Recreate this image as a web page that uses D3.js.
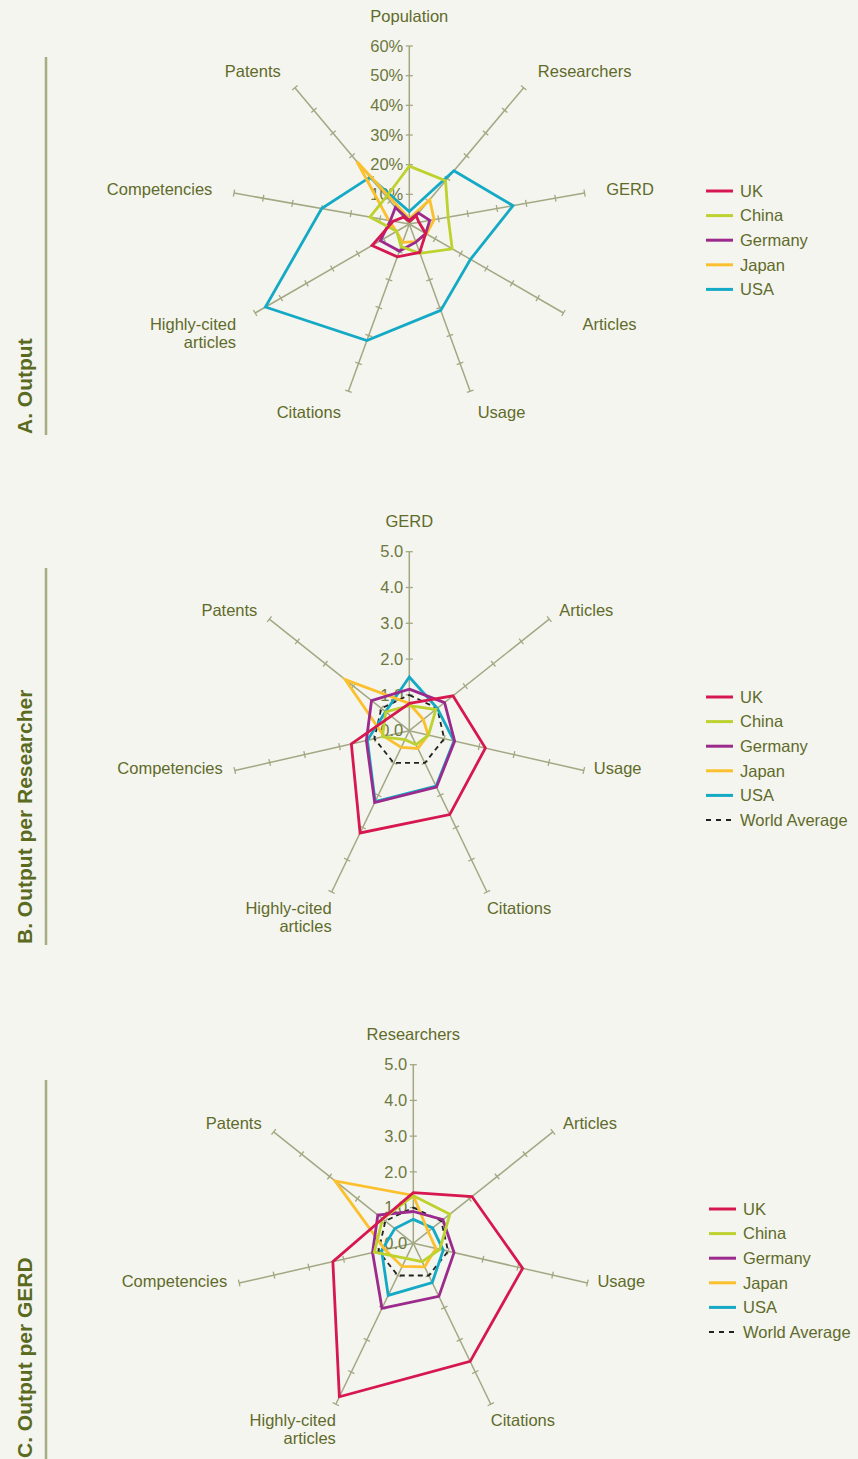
<!DOCTYPE html>
<html>
<head>
<meta charset="utf-8">
<script src="https://cdn.jsdelivr.net/npm/d3@7"></script>
<style>
    body { margin: 0; background: #f5f5ef; }
    svg { display: block; font-family: "Liberation Sans", Arial, sans-serif; }
</style>
</head>
<body>
<svg id="chart" width="858" height="1459"></svg>
<script>
// Panel A - share of world total (%)
const axesA = ["Population", "Researchers", "GERD", "Articles", "Usage", "Citations", "Highly-cited|articles", "Competencies", "Patents"];
const ticksA = [10, 20, 30, 40, 50, 60];
const ukA      = [0.9, 3.6, 3.3, 6.4, 10.2, 11.8, 14.5, 5.5, 3.0];
const chinaA   = [19.5, 19.0, 13.3, 16.7, 10.5, 8.1, 4.9, 13.5, 12.0];
const germanyA = [1.2, 4.8, 7.0, 6.4, 6.5, 9.7, 11.3, 6.5, 7.3];
const japanA   = [1.8, 10.7, 8.5, 6.7, 6.3, 6.6, 5.0, 7.0, 27.5];
const usaA     = [4.2, 23.4, 35.5, 23.8, 31.0, 41.8, 56.0, 30.0, 20.6];

// Panel B - output per researcher (world = 1)
const axesB = ["GERD", "Articles", "Usage", "Citations", "Highly-cited|articles", "Competencies", "Patents"];
const ticksB = [0, 1, 2, 3, 4, 5];
const ukB      = [0.76, 1.56, 2.18, 2.6, 3.17, 1.66, 0.65];
const chinaB   = [0.7, 0.95, 0.55, 0.43, 0.28, 0.77, 0.84];
const germanyB = [1.16, 1.26, 1.3, 1.75, 2.23, 1.23, 1.35];
const japanB   = [0.76, 0.5, 0.54, 0.55, 0.52, 0.72, 2.29];
const usaB     = [1.5, 1.0, 1.28, 1.72, 2.2, 1.2, 0.85];
const worldB   = [1, 1, 1, 1, 1, 1, 1];

// Panel C - output per GERD (world = 1)
const axesC = ["Researchers", "Articles", "Usage", "Citations", "Highly-cited|articles", "Competencies", "Patents"];
const ticksC = [0, 1, 2, 3, 4, 5];
const ukC      = [1.42, 2.1, 3.14, 3.67, 4.77, 2.31, 1.1];
const chinaC   = [1.33, 1.31, 0.76, 0.57, 0.47, 1.12, 1.1];
const germanyC = [0.89, 1.06, 1.17, 1.65, 2.02, 1.17, 1.27];
const japanC   = [1.34, 0.53, 0.65, 0.73, 0.72, 0.81, 2.8];
const usaC     = [0.67, 0.69, 0.86, 1.22, 1.62, 0.91, 0.66];
const worldC   = [1, 1, 1, 1, 1, 1, 1];

const countries = ["UK", "China", "Germany", "Japan", "USA"];
const colors = ["#d7174f", "#bdd12f", "#9b2a8c", "#fbc02d", "#14a9c5"];

const textColor = "#5f6b2b";
const spokeColor = "#a3a883";

const svg = d3.select("#chart");

// label placement, A spreads labels along the spoke, B/C nudge them
function labelAlongSpoke(end, dx, dy, i) {
    return [end[0] + dx * 22, end[1] + dy * 22 + (i === 0 ? -8 : 0)];
}
function labelNudge(end, dx, dy, i) {
    if (i === 0) return [end[0], end[1] - 30];
    const x = Math.abs(dy) > 0.8 ? end[0] : end[0] + (dx > 0 ? 10 : -12);
    const y = dy > 0.5 ? end[1] + 16 : (dy < -0.5 ? end[1] - 9 : end[1] - 2);
    return [x, y];
}

function drawRadar(cfg) {
    const g = svg.append("g")
        .attr("transform", `translate(${cfg.cx}, ${cfg.cy})`);
    const n = cfg.axes.length;
    const angle = d3.scaleLinear().domain([0, n]).range([0, 2 * Math.PI]);
    const r = d3.scaleLinear().domain([0, cfg.max]).range([0, cfg.radius]);
    const dir = i => [Math.sin(angle(i)), -Math.cos(angle(i))];

    // spokes with little cross ticks
    cfg.axes.forEach((a, i) => {
        const [dx, dy] = dir(i);
        const end = [dx * r(cfg.max), dy * r(cfg.max)];
        g.append("line")
            .attr("x1", 0).attr("y1", 0)
            .attr("x2", end[0]).attr("y2", end[1])
            .attr("stroke", spokeColor)
            .attr("stroke-width", 1.5);
        cfg.ticks.filter(t => t > 0).forEach(t => {
            const px = dx * r(t), py = dy * r(t);
            g.append("line")
                .attr("x1", px - dy * 3.5).attr("y1", py + dx * 3.5)
                .attr("x2", px + dy * 3.5).attr("y2", py - dx * 3.5)
                .attr("stroke", spokeColor)
                .attr("stroke-width", 1.3);
        });

        // axis label
        const [lx, ly] = cfg.labelPos(end, dx, dy, i);
        const anchor = dx > 0.1 ? "start" : (dx < -0.1 ? "end" : "middle");
        const label = g.append("text")
            .attr("text-anchor", anchor)
            .attr("font-size", "16.5px")
            .attr("fill", textColor);
        a.split("|").forEach((s, k) => {
            label.append("tspan")
                .attr("x", lx)
                .attr("y", ly + k * 18.5)
                .attr("dy", "0.35em")
                .text(s);
        });
    });

    // tick labels on the top spoke
    g.selectAll(".tick-label")
        .data(cfg.ticks)
        .enter()
        .append("text")
        .attr("class", "tick-label")
        .attr("x", -6)
        .attr("y", d => -r(d))
        .attr("dy", "0.35em")
        .attr("text-anchor", "end")
        .attr("font-size", "16.5px")
        .attr("fill", "#6d7840")
        .text(cfg.tickFormat);

    const line = d3.lineRadial()
        .angle((d, i) => angle(i))
        .radius(d => r(d))
        .curve(d3.curveLinearClosed);

    if (cfg.world) {
        g.append("path")
            .attr("d", line(cfg.world))
            .attr("fill", "none")
            .attr("stroke", "#222")
            .attr("stroke-width", 1.8)
            .attr("stroke-dasharray", "5,4");
    }

    // draw order: USA, Japan, Germany, China, UK
    [4, 3, 2, 1, 0].forEach(k => {
        g.append("path")
            .attr("d", line(cfg.series[k]))
            .attr("fill", "none")
            .attr("stroke", colors[k])
            .attr("stroke-width", 2.8)
            .attr("stroke-linejoin", "miter");
    });

    // legend
    const names = cfg.world ? countries.concat(["World Average"]) : countries;
    const legend = svg.selectAll(null)
        .data(names)
        .enter()
        .append("g")
        .attr("transform", (d, i) => `translate(${cfg.legendX}, ${cfg.legendY + i * 24.6})`);
    legend.append("line")
        .attr("x1", 0).attr("x2", 27)
        .attr("y1", 0).attr("y2", 0)
        .attr("stroke", (d, i) => i < 5 ? colors[i] : "#222")
        .attr("stroke-width", (d, i) => i < 5 ? 3 : 1.8)
        .attr("stroke-dasharray", (d, i) => i < 5 ? null : "5,5");
    legend.append("text")
        .attr("x", 34)
        .attr("dy", "0.35em")
        .attr("font-size", "16.5px")
        .attr("fill", textColor)
        .text(d => d);

    // side bar and title
    svg.append("line")
        .attr("x1", 46).attr("x2", 46)
        .attr("y1", cfg.barTop).attr("y2", cfg.barBottom)
        .attr("stroke", "#a6ad80")
        .attr("stroke-width", 2.5);
    svg.append("text")
        .attr("transform", `translate(32, ${cfg.barBottom - 1}) rotate(-90)`)
        .attr("font-size", "21px")
        .attr("font-weight", "bold")
        .attr("fill", "#5a6a1f")
        .text(cfg.title);
}

drawRadar({
    axes: axesA, ticks: ticksA, max: 60,
    series: [ukA, chinaA, germanyA, japanA, usaA],
    cx: 409.3, cy: 224, radius: 178,
    labelPos: labelAlongSpoke,
    tickFormat: d => d + "%",
    legendX: 706, legendY: 191,
    barTop: 57, barBottom: 435,
    title: "A. Output"
});

drawRadar({
    axes: axesB, ticks: ticksB, max: 5,
    series: [ukB, chinaB, germanyB, japanB, usaB],
    world: worldB,
    cx: 409.3, cy: 730.7, radius: 179,
    labelPos: labelNudge,
    tickFormat: d => d.toFixed(1),
    legendX: 706, legendY: 697,
    barTop: 568, barBottom: 945,
    title: "B. Output per Researcher"
});

drawRadar({
    axes: axesC, ticks: ticksC, max: 5,
    series: [ukC, chinaC, germanyC, japanC, usaC],
    world: worldC,
    cx: 413.3, cy: 1243.3, radius: 178.6,
    labelPos: labelNudge,
    tickFormat: d => d.toFixed(1),
    legendX: 709, legendY: 1209,
    barTop: 1080, barBottom: 1459,
    title: "C. Output per GERD"
});
</script>
</body>
</html>
